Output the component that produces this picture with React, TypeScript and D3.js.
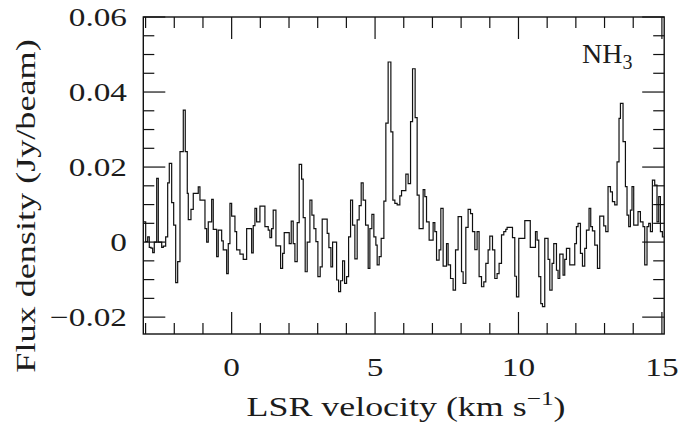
import React from "react";
import * as d3 from "d3";

// NH3 spectrum: left edge velocity (km/s) of each step and flux density (Jy/beam)
const velocityStart = [
  -3.080, -2.997, -2.927, -2.871, -2.812, -2.753, -2.697, -2.613, -2.557, -2.439,
  -2.383, -2.300, -2.230, -2.174, -2.091, -2.021, -1.951, -1.882, -1.801, -1.686,
  -1.617, -1.547, -1.512, -1.418, -1.338, -1.164, -1.105, -0.930, -0.871, -0.815,
  -0.697, -0.641, -0.523, -0.467, -0.348, -0.293, -0.174, -0.118, -0.059, 0.000,
  0.115, 0.174, 0.289, 0.404, 0.523, 0.697, 0.753, 0.812, 0.871, 0.986,
  1.160, 1.275, 1.334, 1.394, 1.449, 1.544, 1.707, 1.777, 1.833, 2.007,
  2.077, 2.146, 2.206, 2.286, 2.355, 2.439, 2.495, 2.564, 2.634, 2.728,
  2.798, 2.868, 2.937, 3.007, 3.087, 3.157, 3.331, 3.390, 3.460, 3.519,
  3.659, 3.728, 3.798, 3.868, 3.937, 4.007, 4.077, 4.146, 4.216, 4.296,
  4.376, 4.446, 4.516, 4.585, 4.669, 4.760, 4.819, 4.889, 4.958, 5.028,
  5.073, 5.143, 5.213, 5.307, 5.376, 5.456, 5.551, 5.620, 5.690, 5.770,
  5.864, 5.923, 6.073, 6.153, 6.237, 6.307, 6.397, 6.467, 6.537, 6.676,
  6.735, 6.794, 6.885, 7.024, 7.084, 7.143, 7.233, 7.293, 7.373, 7.491,
  7.547, 7.631, 7.721, 7.805, 7.895, 8.014, 8.070, 8.164, 8.244, 8.328,
  8.397, 8.477, 8.557, 8.627, 8.711, 8.791, 8.861, 8.941, 9.000, 9.094,
  9.174, 9.254, 9.324, 9.408, 9.488, 9.557, 9.603, 9.791, 9.871, 9.930,
  10.010, 10.220, 10.411, 10.592, 10.648, 10.707, 10.777, 10.836, 10.916, 11.031,
  11.091, 11.171, 11.230, 11.324, 11.380, 11.439, 11.554, 11.613, 11.672, 11.787,
  11.962, 12.021, 12.077, 12.160, 12.230, 12.310, 12.369, 12.460, 12.519, 12.578,
  12.659, 12.753, 12.833, 12.972, 13.042, 13.122, 13.206, 13.275, 13.355, 13.436,
  13.505, 13.554, 13.645, 13.728, 13.784, 13.843, 13.902, 13.958, 14.017, 14.167,
  14.251, 14.341, 14.401, 14.481, 14.540, 14.599, 14.669, 14.749, 14.829, 14.889,
  14.948, 15.017,
];
const velocityEnd = 15.063;

const fluxDensity = [
  0.0054, 0.0001, 0.0014, -0.0014, -0.0016, -0.0028, 0.0000, 0.0170, 0.0000, -0.0014,
  -0.0011, 0.0014, 0.0158, 0.0210, 0.0105, 0.0045, -0.0108, -0.0052, 0.0241, 0.0352,
  0.0241, 0.0130, 0.0060, 0.0087, 0.0130, 0.0147, 0.0112, 0.0036, 0.0000, 0.0054,
  0.0114, 0.0034, -0.0039, 0.0032, 0.0003, -0.0021, -0.0084, -0.0004, 0.0103, 0.0069,
  0.0028, -0.0021, -0.0032, -0.0046, 0.0036, -0.0029, 0.0044, 0.0090, 0.0054, 0.0096,
  0.0041, 0.0032, 0.0012, 0.0036, 0.0085, -0.0010, -0.0070, -0.0030, 0.0025, -0.0004,
  0.0056, -0.0004, -0.0052, 0.0052, 0.0207, 0.0168, 0.0065, -0.0079, 0.0000, 0.0112,
  0.0072, 0.0036, 0.0001, -0.0092, -0.0066, 0.0061, 0.0023, -0.0015, -0.0066, 0.0000,
  -0.0101, -0.0132, -0.0103, -0.0050, -0.0110, -0.0092, 0.0014, 0.0112, 0.0045, -0.0045,
  0.0059, 0.0097, 0.0158, 0.0112, 0.0045, -0.0070, 0.0036, 0.0074, 0.0014, -0.0008,
  -0.0061, -0.0039, 0.0010, 0.0109, 0.0317, 0.0480, 0.0294, 0.0112, 0.0103, 0.0099,
  0.0123, 0.0137, 0.0181, 0.0156, 0.0321, 0.0462, 0.0332, 0.0125, 0.0036, 0.0140,
  0.0121, 0.0054, 0.0005, 0.0052, 0.0028, -0.0048, -0.0021, 0.0090, -0.0064, -0.0004,
  -0.0061, -0.0097, -0.0128, -0.0021, 0.0068, -0.0079, -0.0110, 0.0039, 0.0087, 0.0076,
  0.0028, -0.0020, 0.0028, -0.0092, -0.0119, -0.0106, -0.0057, -0.0021, 0.0016, -0.0021,
  -0.0097, -0.0084, -0.0057, 0.0019, 0.0028, 0.0034, 0.0039, 0.0012, -0.0091, -0.0146,
  0.0010, 0.0057, -0.0014, 0.0028, 0.0005, -0.0092, -0.0164, -0.0172, 0.0010, -0.0046,
  -0.0128, -0.0057, -0.0004, -0.0075, -0.0097, -0.0032, -0.0088, -0.0046, -0.0017, -0.0061,
  -0.0004, 0.0041, 0.0050, -0.0030, -0.0064, -0.0017, 0.0032, 0.0090, 0.0041, 0.0030,
  -0.0008, -0.0070, 0.0069, 0.0043, 0.0028, 0.0148, 0.0134, 0.0108, 0.0099, 0.0214,
  0.0330, 0.0370, 0.0268, 0.0148, 0.0072, 0.0041, 0.0085, 0.0148, 0.0045, 0.0081,
  0.0054, 0.0041, -0.0061, 0.0041, 0.0050, 0.0028, 0.0165, 0.0152, 0.0054, 0.0121,
  0.0028, 0.0014,
];

const xDomain = [-3.08, 15.08];
const yDomain = [-0.0245, 0.06];
const xMajorTicks = [0, 5, 10, 15];
const xTickLabels = ["0", "5", "10", "15"];
const xMinorTicks = [-3, -2, -1, 1, 2, 3, 4, 6, 7, 8, 9, 11, 12, 13, 14];
const yMajorTicks = [-0.02, 0, 0.02, 0.04, 0.06];
const yTickLabels = ["\u22120.02", "0", "0.02", "0.04", "0.06"];
const yMinorTicks = [-0.015, -0.01, -0.005, 0.005, 0.01, 0.015, 0.025, 0.03, 0.035, 0.045, 0.05, 0.055];
const lineLabel = "NH";
const lineLabelSub = "3";
const xTitle = "LSR velocity (km s";
const xTitleSup = "\u22121";
const yTitle = "Flux density (Jy/beam)";

const W = 682;
const H = 432;
const L = 143.3;
const R = 664.2;
const T = 17;
const B = 334;
const MAJ = 22;
const MIN = 11;
const FONT = "'Liberation Serif', 'Times New Roman', serif";
const INK = "#111";
const TEXT = "#1c1c1c";

export default function App() {
  const x = d3.scaleLinear().domain(xDomain).range([L, R]);
  const y = d3.scaleLinear().domain(yDomain).range([B, T]);

  const pts: [number, number][] = velocityStart.map((v, i) => [v, fluxDensity[i]]);
  pts.push([velocityEnd, fluxDensity[fluxDensity.length - 1]]);
  const line = d3
    .line<[number, number]>()
    .x((d) => x(d[0]))
    .y((d) => y(d[1]))
    .curve(d3.curveStepAfter);

  const tickW = 1.2;
  const sxTick = 1.28;
  const sxXTitle = 1.33;
  const sxYTitle = 1.34;

  return (
    <svg width={W} height={H} style={{ position: "absolute", left: 0, top: 0, background: "#fff" }}>
      <rect x={0} y={0} width={W} height={H} fill="#fff" />
      {/* spectrum */}
      <path d={line(pts) || ""} fill="none" stroke={INK} strokeWidth={1.2} strokeLinejoin="miter" />
      {/* frame */}
      <rect x={L} y={T} width={R - L} height={B - T} fill="none" stroke={INK} strokeWidth={1.4} />
      {/* x ticks */}
      {xMajorTicks.map((t) => (
        <g key={"xM" + t}>
          <line x1={x(t)} x2={x(t)} y1={B} y2={B - MAJ} stroke={INK} strokeWidth={tickW} />
          <line x1={x(t)} x2={x(t)} y1={T} y2={T + MAJ} stroke={INK} strokeWidth={tickW} />
        </g>
      ))}
      {xMinorTicks.map((t) => (
        <g key={"xm" + t}>
          <line x1={x(t)} x2={x(t)} y1={B} y2={B - MIN} stroke={INK} strokeWidth={tickW} />
          <line x1={x(t)} x2={x(t)} y1={T} y2={T + MIN} stroke={INK} strokeWidth={tickW} />
        </g>
      ))}
      {/* y ticks */}
      {yMajorTicks.map((t) => (
        <g key={"yM" + t}>
          <line x1={L} x2={L + MAJ} y1={y(t)} y2={y(t)} stroke={INK} strokeWidth={tickW} />
          <line x1={R} x2={R - MAJ} y1={y(t)} y2={y(t)} stroke={INK} strokeWidth={tickW} />
        </g>
      ))}
      {yMinorTicks.map((t) => (
        <g key={"ym" + t}>
          <line x1={L} x2={L + MIN} y1={y(t)} y2={y(t)} stroke={INK} strokeWidth={tickW} />
          <line x1={R} x2={R - MIN} y1={y(t)} y2={y(t)} stroke={INK} strokeWidth={tickW} />
        </g>
      ))}
      {/* x tick labels */}
      {xMajorTicks.map((t, i) => (
        <g key={"xl" + t} transform={`translate(${x(t)},375.5) scale(${sxTick},1)`}>
          <text x={0} y={0} textAnchor="middle" fontFamily={FONT} fontSize={26} fill={TEXT}>
            {xTickLabels[i]}
          </text>
        </g>
      ))}
      {/* y tick labels */}
      {yMajorTicks.map((t, i) => (
        <g key={"yl" + t} transform={`translate(127,${y(t) + 9}) scale(${sxTick},1)`}>
          <text x={0} y={0} textAnchor="end" fontFamily={FONT} fontSize={26} fill={TEXT}>
            {yTickLabels[i]}
          </text>
        </g>
      ))}
      {/* line label */}
      <g transform={`translate(582,63)`}>
        <text x={0} y={0} fontFamily={FONT} fontSize={28} fill={TEXT}>
          {lineLabel}
          <tspan fontSize={20} dy={6}>{lineLabelSub}</tspan>
        </text>
      </g>
      {/* x title */}
      <g transform={`translate(406,416) scale(${sxXTitle},1)`}>
        <text x={0} y={0} textAnchor="middle" fontFamily={FONT} fontSize={27} fill={TEXT}>
          {xTitle}
          <tspan fontSize={19} dy={-11}>{xTitleSup}</tspan>
          <tspan dy={11}>)</tspan>
        </text>
      </g>
      {/* y title */}
      <g transform={`translate(35,206) rotate(-90) scale(${sxYTitle},1)`}>
        <text x={0} y={0} textAnchor="middle" fontFamily={FONT} fontSize={27} fill={TEXT}>
          {yTitle}
        </text>
      </g>
    </svg>
  );
}
